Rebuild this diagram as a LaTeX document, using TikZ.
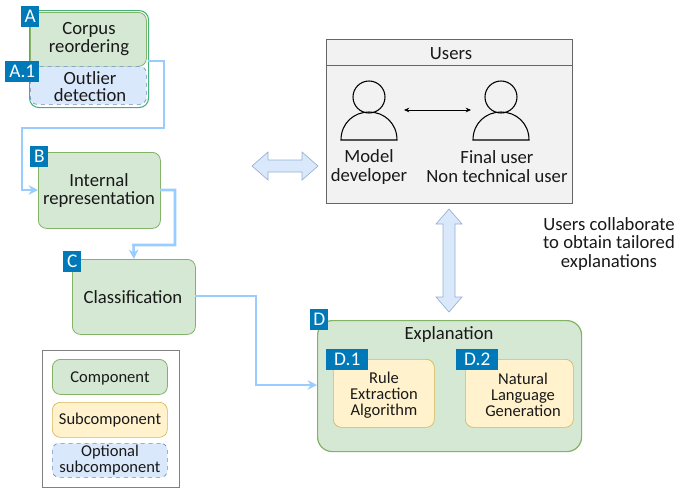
\documentclass[tikz,border=0pt]{standalone}
\usepackage{fontspec}
\setmainfont{Carlito}
\usetikzlibrary{arrows.meta,shapes.arrows}
\definecolor{grn}{HTML}{D5E8D4}\definecolor{grnd}{HTML}{82B366}
\definecolor{yel}{HTML}{FFF2CC}\definecolor{yeld}{HTML}{D6B656}
\definecolor{blu}{HTML}{DAE8FC}\definecolor{blud}{HTML}{6C8EBF}
\definecolor{lab}{HTML}{0079B8}\definecolor{conn}{HTML}{99CCFF}
\definecolor{outerg}{HTML}{45B07C}
\tikzset{
 x=0.75pt,y=-0.75pt,
 txt/.style={align=center,font=\fontsize{14}{13.6}\selectfont,text=black!90,inner sep=0pt},
 wide/.style={align=center,font=\fontsize{14}{14.8}\selectfont,text=black!90,inner sep=0pt},
 small/.style={align=center,font=\fontsize{12.4}{12}\selectfont,text=black!90,inner sep=0pt},
 tiny/.style={align=center,font=\fontsize{12.4}{10}\selectfont,text=black!90,inner sep=0pt},
 comp/.style={fill=grn,draw=grnd,rounded corners=6pt,line width=0.6pt},
 subc/.style={fill=yel,draw=yeld,rounded corners=6pt,line width=0.5pt},
 optc/.style={fill=blu,draw=blud,rounded corners=5pt,dashed,line width=0.5pt},
 badge/.style={fill=lab,text=white,inner sep=0pt,font=\fontsize{14.5}{15}\selectfont,anchor=north west},
 link/.style={draw=conn,line width=1.9pt,-{Stealth[length=7pt,width=7pt]}},
 person/.style={draw=black,line width=0.8pt,fill=none},
}
\newcommand{\boxnode}[7]{% name, style, x1, y1, x2, y2, text
 \node[#2,minimum width=#5*0.75pt-#3*0.75pt,minimum height=#6*0.75pt-#4*0.75pt,anchor=north west,inner sep=0pt,align=center] (#1) at (#3,#4) {#7};}
\newcommand{\badgenode}[6]{% name, x1,y1,x2,y2,text
 \node[badge,minimum width=#4*0.75pt-#2*0.75pt,minimum height=#5*0.75pt-#3*0.75pt,align=center] (#1) at (#2,#3) {#6};}
\newcommand{\personicon}[2]{% cx, name
 \node[circle,person,minimum size=24pt,inner sep=0pt] (#2) at (#1,97) {};
 \draw[person] (#1-28,140) -- (#1+28,140) .. controls (#1+28,123) and (#1+15,112) .. (#1,112) .. controls (#1-15,112) and (#1-28,123) .. (#1-28,140) -- cycle;}
\begin{document}
\begin{tikzpicture}
\useasboundingbox (0,0) rectangle (676,487);
\fill[white] (0,0) rectangle (676,487);
% Legend
\boxnode{legend}{draw=black!50,line width=0.8pt}{42}{350}{179}{487}{}
\boxnode{lc}{comp}{52}{359}{167}{394}{}
\boxnode{ls}{subc}{52}{402}{167}{437}{}
\boxnode{lo}{optc}{52}{443}{167}{477}{}
\node[small] at (110,378) {Component};
\node[small] at (110,420) {Subcomponent};
\node[tiny] at (110,460) {Optional\\subcomponent};
% A
\boxnode{Aouter}{draw=outerg,fill=white,rounded corners=7pt,line width=0.8pt}{29}{10}{148}{107}{}
\boxnode{Ain}{comp}{30}{12}{146}{66}{}
\boxnode{Aopt}{optc}{30}{66}{146}{104}{}
\node[txt] at (89,39) {Corpus\\reordering};
\node[txt,font=\fontsize{14}{12.8}\selectfont] at (90,87) {Outlier\\detection};
% B C D
\boxnode{B}{comp}{38}{152}{160}{228}{}
\node[txt,font=\fontsize{14}{14.2}\selectfont] at (99,190.5) {Internal\\representation};
\boxnode{C}{comp}{72}{259}{195}{334}{}
\node[txt] at (133,297) {Classification};
\boxnode{D}{comp,rounded corners=11pt,line width=0.9pt}{317}{320}{581}{451}{}
\node[txt] (Dt) at (449,335) {Explanation};
\boxnode{D1}{subc}{333}{359}{434}{427}{}
\boxnode{D2}{subc}{465}{359}{573}{427}{}
\node[small] at (384,395) {Rule\\Extraction\\Algorithm};
\node[small] at (523,395) {Natural\\Language\\Generation};
% connectors
\coordinate (ea) at (148,61); \coordinate (wb) at (38,190);
\coordinate (eb) at (160,190); \coordinate (ec) at (195,296); \coordinate (wd) at (317,385);
\draw[link] (ea) -- (164,61) -- (164,128) -- (22,128) -- (22,190) -- (wb);
\draw[link] (eb) -- (175,190) -- (175,245) -- (133.5,245) -- (C.north);
\draw[link] (ec) -- (256,296) -- (256,385) -- (wd);
% badges
\badgenode{a}{21}{6}{39}{27}{A}
\badgenode{a1}{5}{61}{39}{82}{A.1}
\badgenode{b}{30}{146}{48}{167}{B}
\badgenode{c}{63}{251}{81}{272}{C}
\badgenode{d}{310}{309}{328}{330}{D}
\badgenode{d1}{326}{349}{368}{370}{D.1}
\badgenode{d2}{456}{349}{498}{370}{D.2}
% Users
\boxnode{U}{draw=black!60,fill=black!5,line width=0.8pt}{326}{39}{572}{203}{}
\boxnode{Uh}{draw=black!60,fill=black!5,line width=0.8pt}{326}{39}{572}{65}{}
\node[txt] at (451,54) {Users};
\personicon{369}{p1}
\personicon{501}{p2}
\coordinate (mL) at (404,110); \coordinate (mR) at (471,110);
\draw[black,line width=0.6pt,{Stealth[length=4pt,width=3.5pt]}-{Stealth[length=4pt,width=3.5pt]}] (mL) -- (mR);
\node[wide] at (369,167) {Model\\developer};
\node[wide] at (497,166.5) {Final user\\Non technical user};
% block arrows
\draw[fill=blu,draw=blud!70,line width=0.5pt] (252,166) -- (268,152) -- (268,160) -- (302,160) -- (302,152) -- (318,166) -- (302,180) -- (302,172) -- (268,172) -- (268,180) -- cycle;
\draw[fill=blu,draw=blud!70,line width=0.5pt] (449,209) -- (462,224) -- (455,224) -- (455,297) -- (462,297) -- (449,312) -- (436,297) -- (443,297) -- (443,224) -- (436,224) -- cycle;
\node[txt] at (609,244) {Users collaborate\\to obtain tailored\\explanations};
\end{tikzpicture}
\end{document}
